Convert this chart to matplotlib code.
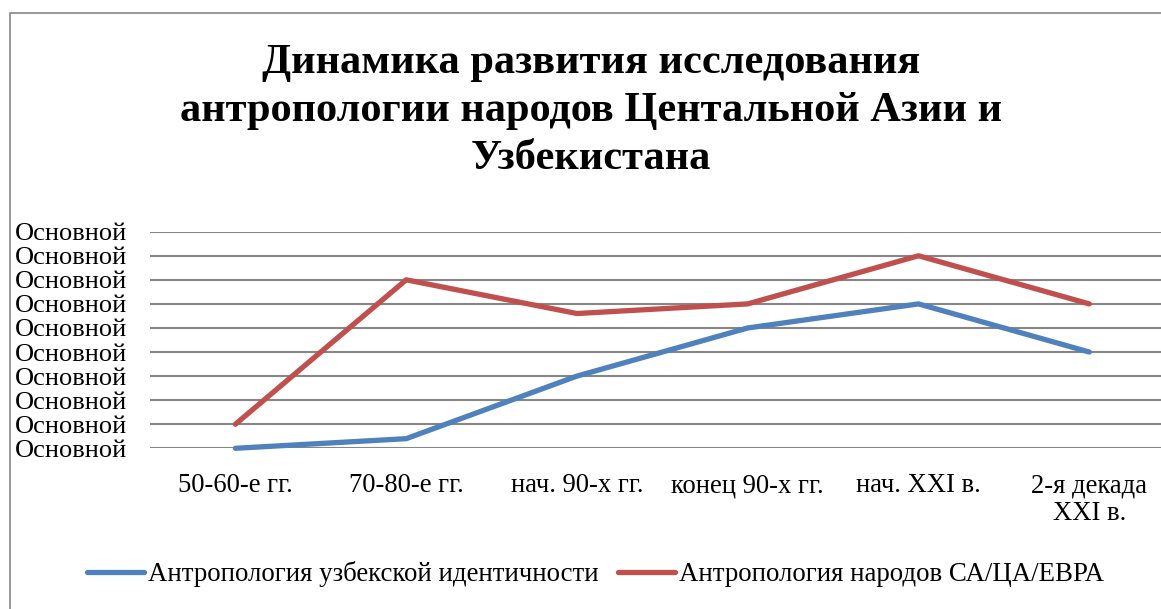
import matplotlib.pyplot as plt
import matplotlib.patches as mpatches

# Data
categories = ['50-60-е гг.', '70-80-е гг.', 'нач. 90-х гг.', 'конец 90-х гг.',
              'нач. XXI в.', '2-я декада\nXXI в.']
uzbek_identity = [0, 0.4, 3, 5, 6, 4]
peoples_ca = [1, 7, 5.6, 6, 8, 6]
y_ticks = list(range(10))
y_tick_labels = ['Основной'] * 10
series_names = ['Антропология узбекской идентичности',
                'Антропология народов СА/ЦА/ЕВРА']
title = 'Динамика развития исследования\nантропологии народов Центальной Азии и\nУзбекистана'

plt.rcParams['font.family'] = ['Liberation Serif', 'DejaVu Serif']

W, H = 1161, 609
fig = plt.figure(figsize=(W / 100, H / 100), dpi=100)

# chart frame (runs off the right/bottom edge like the original crop)
fig.patches.append(mpatches.Rectangle(
    (10 / W, -0.1), 1.2, 1 - 13 / H + 0.1, transform=fig.transFigure,
    fill=False, edgecolor='#868686', linewidth=1.2, zorder=0))

ax = fig.add_axes([150 / W, (H - 448.3) / H, 1 - 150 / W, 216.6 / H])
x = list(range(len(categories)))
ax.plot(x, uzbek_identity, color='#4F81BD', linewidth=3.8,
        solid_capstyle='round', clip_on=False, zorder=3, label=series_names[0])
ax.plot(x, peoples_ca, color='#C0504D', linewidth=3.8,
        solid_capstyle='round', clip_on=False, zorder=3, label=series_names[1])

ax.set_xlim(-0.5, 5.42)
ax.set_ylim(0, 9)
ax.set_yticks(y_ticks)
ax.set_yticklabels(y_tick_labels, fontsize=19)
ax.set_xticks(x)
ax.set_xticklabels(categories, fontsize=19.2, linespacing=1.12)
ax.tick_params(axis='both', length=0)
ax.tick_params(axis='y', pad=16.5)
ax.tick_params(axis='x', pad=18)
ax.grid(axis='y', color='#868686', linewidth=1.5)
ax.set_axisbelow(True)
for s in ax.spines.values():
    s.set_visible(False)

fig.text(591 / W, 1 - 111 / H, title, ha='center', va='center',
         fontsize=30.5, fontweight='bold', linespacing=1.33)

fig.legend(loc='center', bbox_to_anchor=(595.5 / W, 1 - 574 / H), ncol=2,
           frameon=False, fontsize=19.4, handlelength=2.1, handletextpad=0.15,
           columnspacing=0.75)

fig.savefig('out.png', dpi=100)
